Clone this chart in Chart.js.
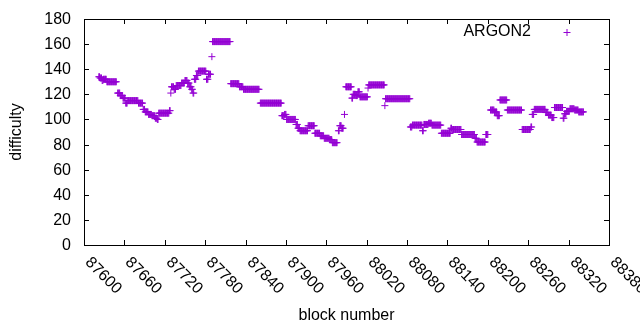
<!DOCTYPE html>
<html>
<head>
<meta charset="utf-8">
<script src="https://cdn.jsdelivr.net/npm/chart.js@4"></script>
<style>
  html, body { margin: 0; padding: 0; background: #ffffff; }
  #wrap { width: 640px; height: 330px; }
</style>
</head>
<body>
<div id="wrap"><canvas id="c" width="640" height="330"></canvas></div>
<script>
// Difficulty per block, as runs of constant value
const runFrom = [87622,87624,87627,87629,87634,87650,87654,87658,87662,87665,87681,87688,87691,87696,87701,87706,87709,87711,87727,87729,87730,87734,87737,87745,87750,87754,87757,87760,87762,87764,87767,87770,87782,87785,87788,87790,87791,87818,87831,87837,87862,87894,87898,87901,87915,87918,87921,87933,87943,87951,87957,87965,87969,87978,87980,87983,87987,87989,87998,88000,88004,88007,88010,88022,88023,88047,88048,88085,88088,88103,88105,88112,88117,88131,88145,88147,88161,88181,88184,88197,88204,88210,88214,88218,88229,88251,88264,88266,88269,88286,88290,88295,88299,88312,88314,88317,88322,88329,88335];
const runTo   = [87623,87626,87628,87633,87648,87653,87657,87661,87664,87680,87687,87690,87695,87700,87705,87708,87710,87726,87728,87729,87733,87736,87744,87749,87753,87756,87759,87761,87763,87766,87769,87781,87784,87787,87788,87790,87817,87830,87836,87860,87893,87897,87900,87914,87917,87920,87932,87942,87950,87956,87964,87968,87976,87979,87982,87985,87987,87997,87999,88003,88006,88009,88021,88022,88046,88047,88084,88087,88102,88104,88111,88116,88130,88144,88146,88160,88180,88183,88196,88200,88209,88213,88217,88228,88250,88263,88265,88268,88285,88289,88294,88298,88311,88313,88316,88321,88328,88334,88342];
const runValue = [134,133,131,132,130,121,119,117,113,115,113,108,106,104,103,101,100,105,107,121,126,124,127,129,131,129,126,124,121,132,135,138.5,132,136,136,150,162,128.5,126,124,113,103,104,100,96,93,91,95,89,87,85,84,81.5,91,95,93,104,126,117,120,119,122,118,125,127.5,111,116.5,94,95.5,91,96,97,95.5,89,93,92,88,85,82,88,107.5,106,103,115.5,107.5,92,94,104,108,105.5,103.5,101.5,109.5,101,104.5,106.5,108.5,107.5,106];

const seriesName = 'ARGON2';
const xTicksFrom = 87600, xTicksTo = 88380, xTickStep = 60;
const yTicksFrom = 0, yTicksTo = 180, yTickStep = 20;
const xTitle = 'block number';
const yTitle = 'difficulty';

const COLOR = '#9400D3';
const FONT = '16px "Liberation Sans", Arial, sans-serif';

const points = [];
for (let i = 0; i < runFrom.length; i++) {
  for (let b = runFrom[i]; b <= runTo[i]; b++) points.push({ x: b, y: runValue[i] });
}

const gnuplotFrame = {
  id: 'gnuplotFrame',
  afterDraw(chart) {
    const { ctx, chartArea: a, scales: { x, y } } = chart;
    const TL = 5;
    ctx.save();
    ctx.strokeStyle = '#000';
    ctx.lineWidth = 1;
    ctx.strokeRect(a.left + 0.5, a.top + 0.5, a.right - a.left, a.bottom - a.top);
    ctx.fillStyle = '#000';
    ctx.font = FONT;
    // y ticks
    y.ticks.forEach(t => {
      const py = Math.round(y.getPixelForValue(t.value)) + 0.5;
      ctx.beginPath();
      ctx.moveTo(a.left, py); ctx.lineTo(a.left + TL, py);
      ctx.moveTo(a.right, py); ctx.lineTo(a.right - TL, py);
      ctx.stroke();
      ctx.textAlign = 'right';
      ctx.textBaseline = 'middle';
      ctx.fillText(String(t.value), 71, py);
    });
    // x ticks
    x.ticks.forEach(t => {
      const px = Math.round(x.getPixelForValue(t.value)) + 0.5;
      ctx.beginPath();
      ctx.moveTo(px, a.bottom); ctx.lineTo(px, a.bottom - TL);
      ctx.moveTo(px, a.top); ctx.lineTo(px, a.top + TL);
      ctx.stroke();
      ctx.save();
      ctx.translate(px + 3, a.bottom + 15);
      ctx.rotate(Math.PI / 4);
      ctx.textAlign = 'left';
      ctx.textBaseline = 'middle';
      ctx.fillText(String(t.value), 0, 0);
      ctx.restore();
    });
    // axis titles
    ctx.textAlign = 'center';
    ctx.textBaseline = 'middle';
    ctx.fillText(xTitle, (a.left + a.right) / 2, 316);
    ctx.save();
    ctx.translate(17, (a.top + a.bottom) / 2);
    ctx.rotate(-Math.PI / 2);
    ctx.fillText(yTitle, 0, 0);
    ctx.restore();
    // key
    const ds = chart.data.datasets[0];
    ctx.textAlign = 'right';
    ctx.fillText(ds.label, 531, 32);
    ctx.strokeStyle = COLOR;
    ctx.beginPath();
    ctx.moveTo(563.5, 32.5); ctx.lineTo(570.5, 32.5);
    ctx.moveTo(567, 29); ctx.lineTo(567, 36);
    ctx.stroke();
    ctx.restore();
  }
};

new Chart(document.getElementById('c'), {
  type: 'scatter',
  data: {
    datasets: [{
      label: seriesName,
      data: points,
      pointStyle: 'cross',
      pointRadius: 3.5,
      pointHoverRadius: 3.5,
      borderColor: COLOR,
      backgroundColor: COLOR,
      borderWidth: 1
    }]
  },
  options: {
    responsive: false,
    animation: false,
    events: [],
    layout: { padding: { left: 0, right: 31, top: 19, bottom: 0 } },
    plugins: { legend: { display: false }, tooltip: { enabled: false } },
    scales: {
      x: {
        type: 'linear',
        min: xTicksFrom, max: xTicksTo,
        ticks: { display: false, stepSize: xTickStep },
        grid: { display: false },
        border: { display: false },
        afterFit(s) { s.height = 85; }
      },
      y: {
        type: 'linear',
        min: yTicksFrom, max: yTicksTo,
        ticks: { display: false, stepSize: yTickStep },
        grid: { display: false },
        border: { display: false },
        afterFit(s) { s.width = 84; }
      }
    }
  },
  plugins: [gnuplotFrame]
});
</script>
</body>
</html>
